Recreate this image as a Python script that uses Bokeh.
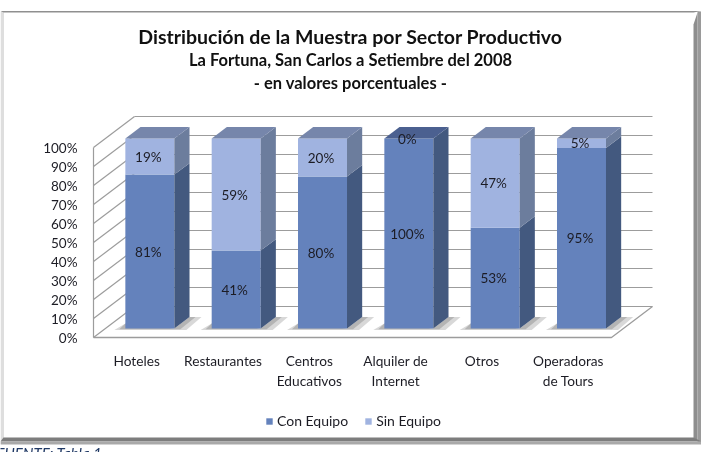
from bokeh.plotting import figure
from bokeh.models import (ColumnDataSource, FixedTicker, Label, Legend, LegendItem, Range1d)
from bokeh.core.properties import value
from bokeh.embed import file_html
from bokeh.resources import INLINE

categories = ["Hoteles", "Restaurantes", "Centros\nEducativos", "Alquiler de\nInternet", "Otros", "Operadoras\nde Tours"]
con_equipo = [81, 41, 80, 100, 53, 95]
sin_equipo = [19, 59, 20, 0, 47, 5]
y_ticks = [0, 10, 20, 30, 40, 50, 60, 70, 80, 90, 100]
title_lines = ["Distribución de la Muestra por Sector Productivo",
               "La Fortuna, San Carlos a Setiembre del 2008",
               "- en valores porcentuales -"]
series_names = ["Con Equipo", "Sin Equipo"]
footer = "FUENTE: Tabla 1"

W, H = 701, 452
X0, XS = 93.0, 86.33      # pixel of x=0, pixels per category
Y0, YS = 337.0, 1.9       # pixel of y=0, pixels per percent
px = lambda v: (v - X0) / XS
py = lambda v: (Y0 - v) / YS

DX, DY = 41 / XS, 31 / YS          # chart depth in data units
BAR_W = 49 / XS
BAR_F, BAR_B = 0.29, 0.66          # bar front/back as fraction of depth
BAR_SHIFT = 0.015
FONT = "Lato"
INK = "#1c1c24"

p = figure(width=W, height=H, output_backend="svg", toolbar_location=None,
           x_range=Range1d(px(0), px(W)), y_range=Range1d(py(H), py(0)),
           min_border=0, outline_line_color=None, background_fill_color="white",
           border_fill_color="white")
p.styles = {"position": "fixed", "left": "0", "top": "0"}
p.grid.visible = False

# chart frame
def band(x, y, c):
    p.patch([px(a) for a in x], [py(b) for b in y], fill_color=c, line_color=None)
band([0, 3.5, 3.5, 0], [11, 12, 437, 444], "#dedede")
band([0, 701, 693, 3], [10.5, 10.5, 12, 12], "#8f8f8f")
band([693, 697, 697, 693], [24, 12, 441, 437], "#8e8e8e")
band([697, 701, 701, 697], [11, 11, 444, 441], "#9a9a9a")
band([3, 693, 701, 0], [437, 437, 441, 441], "#7d7d7d")
band([0, 701, 701, 0], [441, 441, 444, 444], "#a9a9a9")

# walls and floor
n = len(categories)
grid_col = "#9c9c9c"
back = ColumnDataSource(dict(
    x0=[DX] * len(y_ticks), x1=[n + DX] * len(y_ticks),
    y0=[t + DY for t in y_ticks], y1=[t + DY for t in y_ticks]))
p.segment("x0", "y0", "x1", "y1", source=back, line_color=grid_col, line_width=1.2)
wall = ColumnDataSource(dict(
    x0=[0] * len(y_ticks), x1=[DX] * len(y_ticks),
    y0=y_ticks, y1=[t + DY for t in y_ticks]))
p.segment("x0", "y0", "x1", "y1", source=wall, line_color=grid_col, line_width=1.2)
p.line([0, 0], [y_ticks[0], y_ticks[-1]], line_color=grid_col, line_width=1.2)
p.line([0, n, n + DX], [0, 0, DY], line_color=grid_col, line_width=1.3)

# bars
front_dark, front_light = "#6482bc", "#a0b3e0"
side_dark, side_light = "#43597f", "#6c7d9d"
top_dark, top_light = "#4b6090", "#7686ab"

cx = [i + 0.5 + BAR_F * DX + BAR_SHIFT for i in range(n)]
lefts = [c - BAR_W / 2 for c in cx]
rights = [c + BAR_W / 2 for c in cx]
base = BAR_F * DY
ddx, ddy = (BAR_B - BAR_F) * DX, (BAR_B - BAR_F) * DY

# floor shadows: a wide soft layer and a tighter darker one
def shadow(left_out, right_out, below, alpha):
    sx, sy = [], []
    for l, r in zip(lefts, rights):
        sx.append([l - left_out / XS, l, r, r + ddx, r + ddx + right_out / XS, r + right_out / XS])
        sy.append([base - below / YS, base + 5 / YS, base, base + ddy, base + ddy, base - below / YS])
    p.patches(sx, sy, fill_color="#7f7f7f", fill_alpha=alpha, line_color=None)
shadow(11, 12, 1.5, 0.3)
shadow(6, 6, 0.8, 0.4)

dark_src = ColumnDataSource(dict(left=lefts, right=rights,
                                 bottom=[base] * n, top=[base + v for v in con_equipo]))
light_src = ColumnDataSource(dict(left=lefts, right=rights,
                                  bottom=[base + v for v in con_equipo],
                                  top=[base + v + s for v, s in zip(con_equipo, sin_equipo)]))
r_dark = p.quad(source=dark_src, left="left", right="right", bottom="bottom", top="top",
                fill_color=front_dark, line_color=None)
r_light = p.quad(source=light_src, left="left", right="right", bottom="bottom", top="top",
                 fill_color=front_light, line_color=None)

def sides(bottoms, tops, color):
    xs = [[r, r + ddx, r + ddx, r] for r in rights]
    ys = [[b, b + ddy, t + ddy, t] for b, t in zip(bottoms, tops)]
    p.patches(xs, ys, fill_color=color, line_color=None)
sides(dark_src.data["bottom"], dark_src.data["top"], side_dark)
sides(light_src.data["bottom"], light_src.data["top"], side_light)

tops = light_src.data["top"]
top_xs = [[l, r, r + ddx, l + ddx] for l, r in zip(lefts, rights)]
top_ys = [[t, t, t + ddy, t + ddy] for t in tops]
p.patches(top_xs, top_ys, fill_color=[top_light if s > 0 else top_dark for s in sin_equipo],
          line_color=None)

# value labels
lab_x = [c - 1.5 / XS for c in cx]
p.text(lab_x, [base + v / 2 for v in con_equipo], text=[f"{v}%" for v in con_equipo],
       text_align="center", text_baseline="middle", text_font=value(FONT),
       text_font_size="13.5px", text_color=INK)
p.text(lab_x, [base + v + s / 2 for v, s in zip(con_equipo, sin_equipo)],
       text=[f"{s}%" for s in sin_equipo],
       text_align="center", text_baseline="middle", text_font=value(FONT),
       text_font_size="13.5px", text_color=INK)

# axes
xa = p.xaxis[0]
xa.fixed_location = 0
xa.ticker = FixedTicker(ticks=[i + 0.5 for i in range(n)])
xa.major_label_overrides = {i + 0.5: c for i, c in enumerate(categories)}
ya = p.yaxis[0]
ya.fixed_location = 0
ya.ticker = FixedTicker(ticks=y_ticks)
ya.major_label_overrides = {t: f"{t}%" for t in y_ticks}
for a, st, size in ((xa, 8, "13.7px"), (ya, 10, "13.5px")):
    a.axis_line_color = None
    a.major_tick_line_color = None
    a.minor_tick_line_color = None
    a.major_label_standoff = st
    a.major_label_text_font = FONT
    a.major_label_text_font_size = size
    a.major_label_text_color = INK

# titles
for text, yy, size in zip(title_lines, [36, 59, 82], ["19.5px", "16.5px", "16.5px"]):
    p.add_layout(Label(x=px(350), y=py(yy), text=text, text_align="center", text_baseline="middle",
                       text_font=FONT, text_font_style="bold", text_font_size=size, text_color="#111111"))

p.add_layout(Label(x=px(-4), y=py(452), text=footer, text_align="left", text_baseline="middle",
                   text_font=FONT, text_font_style="italic", text_font_size="15px", text_color="#1f3864"))

# legend
legend = Legend(items=[LegendItem(label=series_names[0], renderers=[r_dark]),
                       LegendItem(label=series_names[1], renderers=[r_light])],
                orientation="horizontal", location=(265, 23), padding=0, margin=0, spacing=16,
                glyph_width=8, glyph_height=8, label_standoff=4,
                label_text_font=FONT, label_text_font_size="14px", label_text_color=INK,
                background_fill_alpha=0, border_line_color=None)
p.add_layout(legend, "center")

open("out.html", "w").write(file_html(p, INLINE))
